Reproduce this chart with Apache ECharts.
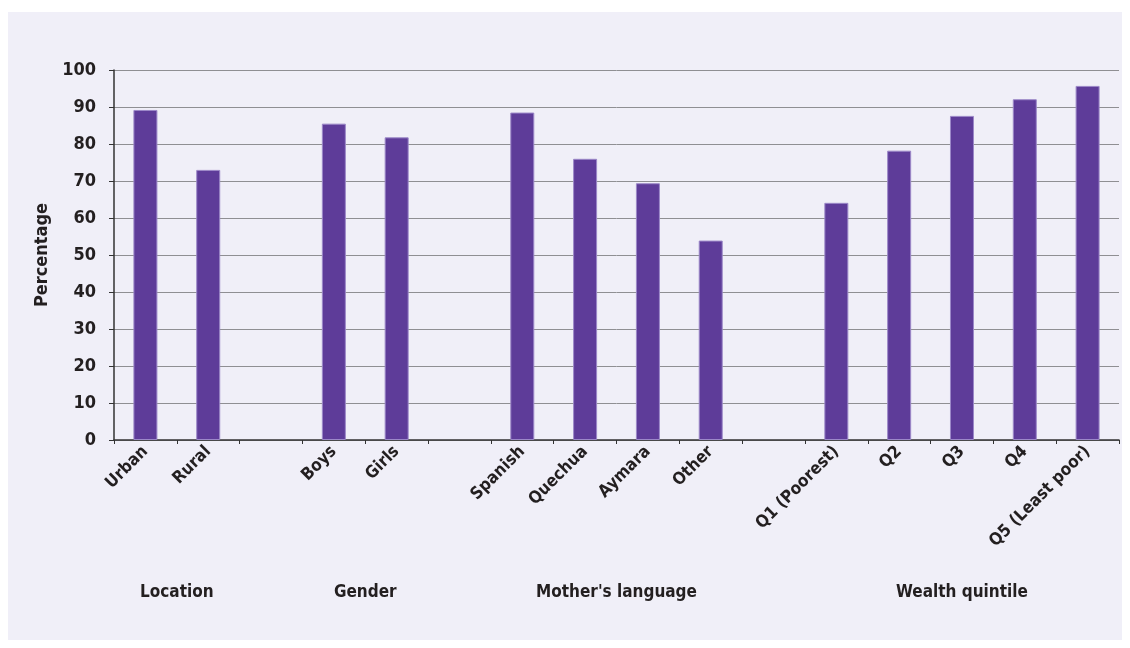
<!DOCTYPE html>
<html>
<head>
<meta charset="utf-8">
<script src="https://cdn.jsdelivr.net/npm/echarts@6/dist/echarts.min.js"></script>
<style>
  html, body { margin: 0; padding: 0; background: #fff; }
  #chart { width: 1130px; height: 648px; }
</style>
</head>
<body>
<div id="chart"></div>
<script>
// categories ('' = gap between groups)
var categories = ['Urban', 'Rural', '', 'Boys', 'Girls', '', 'Spanish', 'Quechua', 'Aymara', 'Other', '',
  'Q1 (Poorest)', 'Q2', 'Q3', 'Q4', 'Q5 (Least poor)'];
var values = [89.2, 73.0, null, 85.5, 81.8, null, 88.5, 76.0, 69.4, 53.9, null,
  64.1, 78.2, 87.6, 92.1, 95.7];
// group labels, with first and last category index of each group
var groups = ['Location', 'Gender', "Mother's language", 'Wealth quintile'];
var groupSpans = [[0, 1], [3, 4], [6, 9], [11, 15]];
var yTicks = [0, 10, 20, 30, 40, 50, 60, 70, 80, 90, 100];

var font = '"Liberation Sans Narrow", "DejaVu Sans Condensed", Arial, sans-serif';
var chart = echarts.init(document.getElementById('chart'));

var panel = {
  type: 'rect',
  z: -10,
  shape: { x: 8, y: 12, width: 1114, height: 628 },
  style: { fill: '#f0eff8' }
};

chart.setOption({
  animation: false,
  textStyle: { fontFamily: font },
  graphic: [panel],
  grid: { left: 114, right: 11, top: 70, bottom: 208 },
  xAxis: {
    type: 'category',
    data: categories,
    axisLine: { lineStyle: { color: '#333', width: 1.5 } },
    axisTick: { show: true, length: 4, lineStyle: { color: '#333' } },
    axisLabel: {
      rotate: 45,
      interval: 0,
      margin: 9,
      color: '#231f20',
      fontWeight: 'bold',
      fontSize: 17,
      fontFamily: font
    }
  },
  yAxis: {
    type: 'value',
    min: yTicks[0],
    max: yTicks[yTicks.length - 1],
    interval: 10,
    name: 'Percentage',
    nameLocation: 'middle',
    nameGap: 60,
    nameTextStyle: { color: '#231f20', fontWeight: 'bold', fontSize: 18, fontFamily: font },
    axisLine: { show: true, lineStyle: { color: '#333', width: 1.5 } },
    axisTick: { show: true, length: 5, lineStyle: { color: '#333' } },
    axisLabel: { color: '#231f20', fontWeight: 'bold', fontSize: 18, margin: 18, fontFamily: font },
    splitLine: { lineStyle: { color: '#8f8f93', width: 1 } }
  },
  series: [{
    type: 'bar',
    data: values,
    barWidth: 24,
    itemStyle: { color: '#5e3c99', borderColor: '#9c88c8', borderWidth: 1 }
  }]
});

// group titles centred under their categories
var groupText = groups.map(function (name, i) {
  var a = chart.convertToPixel({ xAxisIndex: 0 }, groupSpans[i][0]);
  var b = chart.convertToPixel({ xAxisIndex: 0 }, groupSpans[i][1]);
  return {
    type: 'text',
    x: (a + b) / 2,
    y: 593,
    style: {
      text: name,
      fill: '#231f20',
      font: 'bold 17px ' + font,
      textAlign: 'center',
      textVerticalAlign: 'middle'
    }
  };
});
chart.setOption({ graphic: [panel].concat(groupText) });
</script>
</body>
</html>
